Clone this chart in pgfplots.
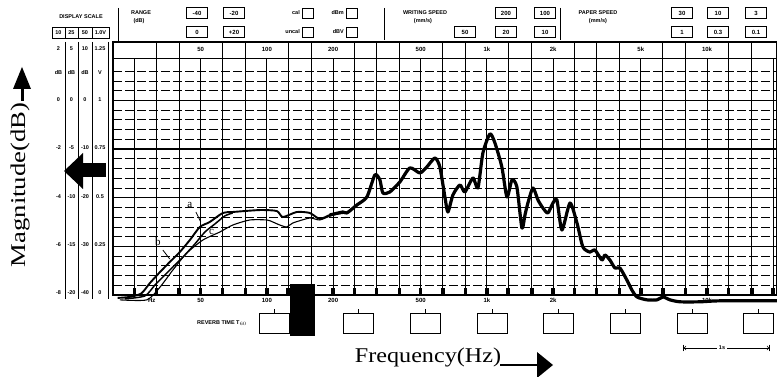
\documentclass[border=0pt]{standalone}
\usepackage{fontspec}
\setmainfont{Liberation Serif}
\setsansfont{Liberation Sans}
\usepackage{pgfplots}
\pgfplotsset{compat=1.18}
\begin{document}
\begin{tikzpicture}[x=1pt,y=1pt,
  hd/.style={font=\sffamily\bfseries\fontsize{5.5}{6}\selectfont, inner sep=0pt},
  bx/.style={draw, line width=0.9pt, inner sep=0pt, minimum width=21pt, minimum height=11pt, font=\sffamily\bfseries\fontsize{6}{6}\selectfont},
  sb/.style={draw, line width=0.9pt, inner sep=0pt, minimum width=11pt, minimum height=10pt},
  cl/.style={font=\sffamily\bfseries\fontsize{6}{6}\selectfont, inner sep=0pt},
  cs/.style={font=\sffamily\bfseries\fontsize{5.5}{6}\selectfont, inner sep=0pt},
]
\useasboundingbox (0,0) rectangle (777,377);
\begin{axis}[
  at={(113pt,82pt)}, anchor=south west,
  scale only axis, width=664pt, height=253pt,
  xmode=log, xmin=20, xmax=20800, ymin=-20, ymax=6,
  ticks=none, axis line style={line width=1.3pt},
  clip=false,
]
% vertical third-octave grid and bottom marks
\pgfplotsinvokeforeach{25,31.5,40,50,63,80,100,125,160,200,250,315,400,500,630,800,1000,1250,1600,2000,2500,3150,4000,5000,6300,8000,10000,12500,16000,20000}{
  \draw[line width=1pt] (axis cs:#1,-20) -- (axis cs:#1,4.35);
  \fill (axis cs:#1,-20) ++(-1.8pt,0pt) rectangle ++(3.6pt,7pt);
}
% minor horizontal grid
\pgfplotsinvokeforeach{-19,-18,-17,-16,-14,-13,-12,-11,-9,-8,-7,-6,-4,-3,-2,-1,1,2,3}{
  \draw[line width=0.7pt, dash pattern=on 9pt off 3pt] (axis cs:20,#1) -- (axis cs:20800,#1);
}
% major horizontal grid
\pgfplotsinvokeforeach{-15,-10,-5,0}{
  \draw[line width=1.3pt] (axis cs:20,#1) -- (axis cs:20800,#1);
}
% top band
\draw[line width=0.9pt] (axis cs:20,4.35) -- (axis cs:20800,4.35);
\pgfplotsinvokeforeach{31.5,40,63,80,125,160,250,315,400,630,800,1250,1600,2500,3150,4000,6300,8000,12500,16000}{
  \draw[line width=0.9pt] (axis cs:#1,4.35) -- (axis cs:#1,6);
}
\node[cl] at (axis cs:50,5.2) {50};
\node[cl] at (axis cs:100,5.2) {100};
\node[cl] at (axis cs:200,5.2) {200};
\node[cl] at (axis cs:500,5.2) {500};
\node[cl] at (axis cs:1000,5.2) {1k};
\node[cl] at (axis cs:2000,5.2) {2k};
\node[cl] at (axis cs:5000,5.2) {5k};
\node[cl] at (axis cs:10000,5.2) {10k};
% curve c (thin)
\addplot[black, line width=1.1pt, smooth, tension=0.4] coordinates {
(21.5,-20.5) (28.5,-20.5) (32.7,-19.19) (37.4,-17.44) (43.3,-15.69) (51.2,-14.35)
(61.1,-13.53) (70.0,-12.81) (83.7,-12.29) (100,-12.29) (106.5,-12.50) (114.6,-12.81)
(123.3,-13.01) (131.3,-12.60) (156.7,-12.09) (174,-12.29) (199.5,-11.78) (231,-11.57)
};
% curve b
\addplot[black, line width=1.5pt, smooth, tension=0.4] coordinates {
(22.6,-20.4) (27.9,-20.1) (31.0,-18.98) (34.4,-17.95) (38.2,-16.92) (42.4,-15.89)
(47.1,-14.76) (52.3,-13.53) (58.0,-12.71) (64.4,-11.88) (70,-11.57)
};
% curve a, low part
\addplot[black, line width=1.9pt, smooth, tension=0.4] coordinates {
(21.0,-20.3) (23.8,-20.2) (26.9,-19.84) (29.4,-18.78) (32.7,-17.64) (36.2,-16.62)
(40.2,-15.59) (44.7,-14.35) (49.6,-13.01) (55.0,-12.50) (63.1,-11.57) (70.0,-11.47)
(93.0,-11.27) (111,-11.37) (118.2,-11.99) (136.8,-11.47) (156.7,-11.57) (174,-12.19)
(193.2,-11.78) (221.5,-11.47) (231,-11.57)
};
% main curve
\addplot[black, line width=3.2pt, smooth, tension=0.4, line join=round] coordinates {
(193.2,-11.78) (221.5,-11.47) (231,-11.57) (256.5,-10.75) (284.8,-9.93) (309.7,-7.66)
(326.4,-8.18) (336.7,-9.52) (362.3,-9.41) (402.2,-8.38) (446.7,-6.94) (495.8,-7.46)
(533.4,-6.84) (580.2,-5.92) (611.2,-6.84) (644.3,-9.93) (665,-11.47) (700.7,-9.72)
(753.9,-8.69) (794.3,-9.41) (863.6,-7.97) (910.2,-9.0) (958.9,-5.40) (1032,-3.45)
(1087,-4.37) (1169,-6.84) (1233,-9.93) (1299,-8.18) (1368,-8.90) (1442,-13.12)
(1489,-11.78) (1535,-10.55) (1619,-9.0) (1706,-10.24) (1797,-11.06) (1893,-11.57)
(1995,-10.55) (2080,-10.24) (2192,-13.32) (2384,-10.55) (2565,-12.60) (2730,-15.07)
(2937,-15.59) (3096,-15.38) (3332,-16.41) (3437,-15.89) (3622,-16.41) (3817,-17.23)
(4022,-17.23) (4326,-18.47) (4560,-19.50) (4806,-20.2) (5334,-20.5) (5929,-20.5)
(6310,-20.2) (6790,-20.5) (7537,-20.7) (9290,-20.7) (11450,-20.6) (20800,-20.6)
};
% curve labels
\node[font=\fontsize{11}{11}\selectfont, inner sep=0pt] at (axis cs:44.7,-10.75) {a};
\draw[line width=0.8pt] (axis cs:47.6,-11.47) -- (axis cs:50.1,-12.5);
\node[font=\fontsize{11}{11}\selectfont, inner sep=0pt] at (axis cs:32.0,-14.56) {b};
\draw[line width=0.8pt] (axis cs:33.7,-15.38) -- (axis cs:36.2,-16.3);
\node[font=\fontsize{11}{11}\selectfont, inner sep=0pt] at (axis cs:56.1,-13.53) {c};
% bottom frequency labels
\node[cl, anchor=north] at (axis cs:30,-20.35) {Hz};
\node[cl, anchor=north] at (axis cs:50,-20.35) {50};
\node[cl, anchor=north] at (axis cs:100,-20.35) {100};
\node[cl, anchor=north] at (axis cs:200,-20.35) {200};
\node[cl, anchor=north] at (axis cs:500,-20.35) {500};
\node[cl, anchor=north] at (axis cs:1000,-20.35) {1k};
\node[cl, anchor=north] at (axis cs:2000,-20.35) {2k};
\node[cl, anchor=north] at (axis cs:10000,-20.35) {10k};
\end{axis}
% ---- header ----
\draw[line width=0.9pt] (118,369) -- (118,334);
\draw[line width=0.9pt] (384,369) -- (384,337);
\draw[line width=0.9pt] (560,369) -- (560,337);
\node[hd] at (81,360) {DISPLAY SCALE};
\node[bx, minimum width=13pt, line width=0.7pt, font=\sffamily\bfseries\fontsize{5.5}{6}\selectfont] at (58.5,344) {10};
\node[bx, minimum width=13pt, line width=0.7pt, font=\sffamily\bfseries\fontsize{5.5}{6}\selectfont] at (71.5,344) {25};
\node[bx, minimum width=14pt, line width=0.7pt, font=\sffamily\bfseries\fontsize{5.5}{6}\selectfont] at (85,344) {50};
\node[bx, minimum width=17pt, line width=0.7pt, font=\sffamily\bfseries\fontsize{5.5}{6}\selectfont] at (100.5,344) {1.0V};
\node[hd] at (141,364) {RANGE};
\node[hd] at (139,356) {(dB)};
\node[bx] at (197,364) {-40};
\node[bx] at (234,364) {-20};
\node[bx] at (197,345) {0};
\node[bx] at (234,345) {+20};
\node[hd, anchor=east] at (300,364) {cal};
\node[sb] at (308,364) {};
\node[hd, anchor=east] at (344,364) {dBm};
\node[sb] at (352,364) {};
\node[hd, anchor=east] at (300,345) {uncal};
\node[sb] at (308,345) {};
\node[hd, anchor=east] at (344,345) {dBV};
\node[sb] at (352,345) {};
\node[hd] at (425,364) {WRITING SPEED};
\node[hd] at (423,356) {(mm/s)};
\node[bx, line width=1.3pt] at (506,364) {200};
\node[bx, line width=1.3pt] at (545,364) {100};
\node[bx] at (465,345) {50};
\node[bx] at (506,345) {20};
\node[bx] at (545,345) {10};
\node[hd] at (598,364) {PAPER SPEED};
\node[hd] at (598,356) {(mm/s)};
\node[bx] at (682,364) {30};
\node[bx] at (718,364) {10};
\node[bx] at (756,364) {3};
\node[bx] at (682,345) {1};
\node[bx] at (718,345) {0.3};
\node[bx] at (756,345) {0.1};
% ---- left scale columns ----
\foreach \x in {65,78,92,108}{\draw[line width=0.8pt] (\x,335) -- (\x,78);}
\foreach \y/\a/\b/\c/\d in {328/2/5/10/1.25, 304/dB/dB/dB/V, 277/0/0/0/1, 229/-2/-5/-10/0.75, 180/-4/-10/-20/0.5, 132/-6/-15/-30/0.25, 84/-8/-20/-40/0}{
  \node[cs] at (58.5,\y) {\a};
  \node[cs] at (71.5,\y) {\b};
  \node[cs] at (85,\y) {\c};
  \node[cs] at (100,\y) {\d};
}
% reference marker
\fill (64,206) -- (83,224) -- (83,188) -- cycle;
\fill (82,200) rectangle (106,214);
% ---- reverb row ----
\node[hd] at (222,54) {REVERB TIME T$_{60}$};
\foreach \x in {274,358,425,492,558,625,692,758}{
  \draw[line width=0.8pt] (\x-15,44) rectangle (\x+15,64);
  \draw[line width=0.8pt] (\x,64) -- (\x,68);
}
\fill (290,41) rectangle (315,93);
\draw[line width=0.7pt, |<->|] (683,29) -- (770,29);
\node[hd, fill=white, inner sep=1.5pt] at (722,29) {1s};
% ---- axis labels ----
\node[font=\fontsize{21}{21}\selectfont, inner sep=0pt] at (428,20) {\scalebox{1.15}[1]{Frequency(Hz)}};
\draw[line width=2.6pt] (500,12) -- (540,12);
\fill (537,25) -- (553,12) -- (537,-1) -- cycle;
\node[font=\fontsize{21}{21}\selectfont, inner sep=0pt, rotate=90] at (20,192) {\scalebox{1.27}[1]{Magnitude(dB)}};
\draw[line width=3pt] (22,276) -- (22,292);
\fill (13,288) -- (22,310) -- (31,288) -- cycle;
\end{tikzpicture}
\end{document}
